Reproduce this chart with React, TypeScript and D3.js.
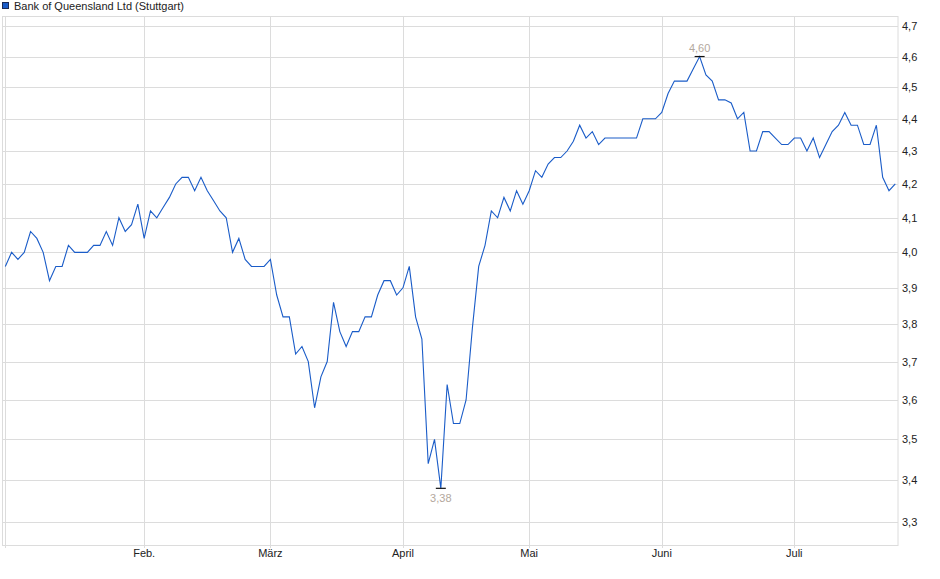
import * as d3 from 'd3';

// Bank of Queensland Ltd (Stuttgart), daily closes Jan-Jul (one value per trading day)
const closes: number[] = [
  3.96, 4.0, 3.98, 4.0, 4.06, 4.04, 4.0, 3.92, 3.96, 3.96,
  4.02, 4.0, 4.0, 4.0, 4.02, 4.02, 4.06, 4.02, 4.1, 4.06,
  4.08, 4.14, 4.04, 4.12, 4.1, 4.13, 4.16, 4.2, 4.22, 4.22,
  4.18, 4.22, 4.18, 4.15, 4.12, 4.1, 4.0, 4.04, 3.98, 3.96,
  3.96, 3.96, 3.98, 3.88, 3.82, 3.82, 3.72, 3.74, 3.7, 3.58,
  3.66, 3.7, 3.86, 3.78, 3.74, 3.78, 3.78, 3.82, 3.82, 3.88,
  3.92, 3.92, 3.88, 3.9, 3.96, 3.82, 3.76, 3.44, 3.5, 3.38,
  3.64, 3.54, 3.54, 3.6, 3.79, 3.96, 4.02, 4.12, 4.1, 4.16,
  4.12, 4.18, 4.14, 4.18, 4.24, 4.22, 4.26, 4.28, 4.28, 4.3,
  4.33, 4.38, 4.34, 4.36, 4.32, 4.34, 4.34, 4.34, 4.34, 4.34,
  4.34, 4.4, 4.4, 4.4, 4.42, 4.48, 4.52, 4.52, 4.52, 4.56,
  4.6, 4.54, 4.52, 4.46, 4.46, 4.45, 4.4, 4.42, 4.3, 4.3,
  4.36, 4.36, 4.34, 4.32, 4.32, 4.34, 4.34, 4.3, 4.34, 4.28,
  4.32, 4.36, 4.38, 4.42, 4.38, 4.38, 4.32, 4.32, 4.38, 4.22,
  4.18, 4.2,
];

// first trading day of each month (index into closes)
const monthIndex = [0, 22, 42, 63, 83, 104, 125];
const monthLabels = ['', 'Feb.', 'März', 'April', 'Mai', 'Juni', 'Juli'];

const yTicks = [3.3, 3.4, 3.5, 3.6, 3.7, 3.8, 3.9, 4.0, 4.1, 4.2, 4.3, 4.4, 4.5, 4.6, 4.7];

const title = 'Bank of Queensland Ltd (Stuttgart)';

const W = 940;
const H = 579;
const plot = { left: 2.5, right: 898, top: 16, bottom: 545 };

const fmt = (v: number, digits: number) => v.toFixed(digits).replace('.', ',');

export default function App() {
  const x = d3
    .scaleLinear()
    .domain([0, closes.length - 1])
    .range([5.3, 895.3]);
  const y = d3.scaleLog().domain([3.246, 4.735]).range([plot.bottom, plot.top]);

  const line = d3
    .line<number>()
    .x((_, i) => x(i))
    .y((d) => y(d));

  const hi = d3.maxIndex(closes);
  const lo = d3.minIndex(closes);

  const font = '"Liberation Sans", Arial, sans-serif';
  const grid = '#dcdcdc';

  return (
    <svg
      width={W}
      height={H}
      style={{ position: 'absolute', left: 0, top: 0, background: '#fff' }}
      fontFamily={font}
    >
      {/* legend */}
      <rect x={2.5} y={2.5} width={6} height={6} fill="#1a5cc8" stroke="#1b2a55" strokeWidth={1} />
      <text x={14} y={10} fontSize={11} fill="#222">
        {title}
      </text>

      {/* horizontal grid + y labels */}
      {yTicks.map((t) => (
        <g key={t}>
          <line
            x1={plot.left}
            x2={plot.right}
            y1={Math.round(y(t)) + 0.5}
            y2={Math.round(y(t)) + 0.5}
            stroke={grid}
          />
          <text x={902} y={y(t) + 4} fontSize={11} fill="#222">
            {fmt(t, 1)}
          </text>
        </g>
      ))}

      {/* vertical month grid + labels */}
      {monthIndex.map((m, i) => (
        <g key={m}>
          <line
            x1={Math.round(x(m)) + 0.5}
            x2={Math.round(x(m)) + 0.5}
            y1={plot.top}
            y2={plot.bottom + 3}
            stroke={grid}
          />
          <text x={x(m)} y={557} fontSize={11} fill="#222" textAnchor="middle">
            {monthLabels[i]}
          </text>
        </g>
      ))}

      {/* frame */}
      <rect
        x={plot.left}
        y={plot.top + 0.5}
        width={plot.right - plot.left}
        height={plot.bottom - plot.top}
        fill="none"
        stroke={grid}
      />

      {/* price line */}
      <path d={line(closes) ?? ''} fill="none" stroke="#1a5cc8" strokeWidth={1.1} />

      {/* high / low markers */}
      <line x1={x(hi) - 5} x2={x(hi) + 5} y1={y(closes[hi])} y2={y(closes[hi])} stroke="#111" strokeWidth={1.2} />
      <text x={x(hi)} y={y(closes[hi]) - 5} fontSize={11} fill="#b3a89d" textAnchor="middle">
        {fmt(closes[hi], 2)}
      </text>
      <line x1={x(lo) - 5} x2={x(lo) + 5} y1={y(closes[lo])} y2={y(closes[lo])} stroke="#111" strokeWidth={1.2} />
      <text x={x(lo)} y={y(closes[lo]) + 14} fontSize={11} fill="#b3a89d" textAnchor="middle">
        {fmt(closes[lo], 2)}
      </text>
    </svg>
  );
}
